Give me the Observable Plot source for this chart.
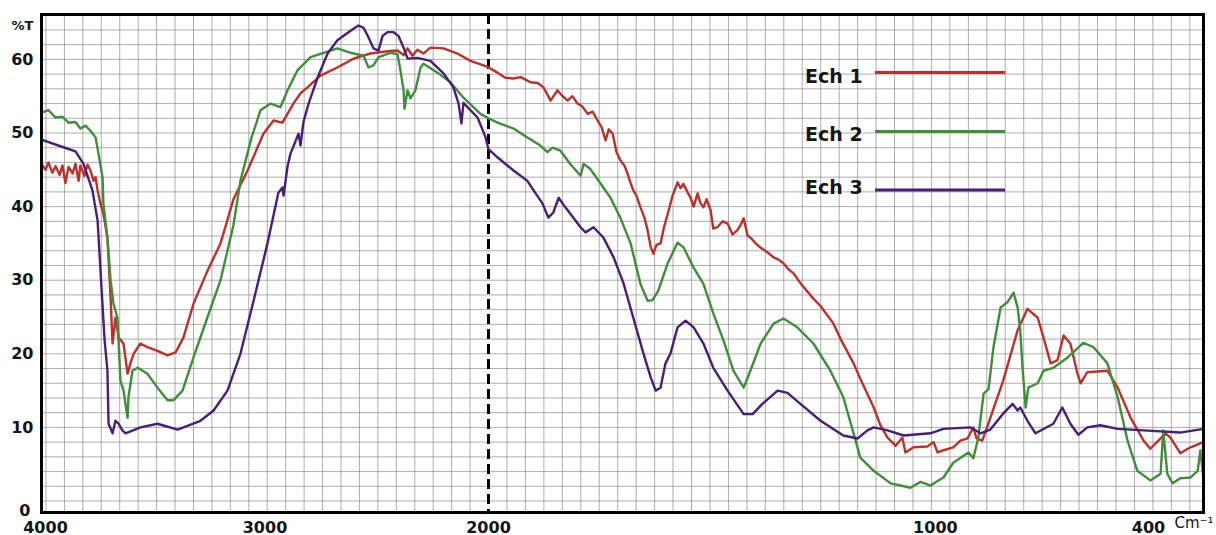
<!DOCTYPE html>
<html><head><meta charset="utf-8">
<script src="https://cdn.jsdelivr.net/npm/d3@7"></script>
<script src="https://cdn.jsdelivr.net/npm/@observablehq/plot@0.6"></script>
<style>body{margin:0;background:#fff}#chart{width:1216px;height:535px}</style>
</head><body><div id="chart"></div>
<script>
// [wavenumber cm-1, %T]
const ech1 = [[4000,45.8],[3982,45.0],[3969,46.0],[3951,44.6],[3937,45.5],[3919,44.3],[3906,45.6],[3893,43.2],[3879,45.4],[3861,44.5],[3848,45.8],[3834,43.5],[3826,45.6],[3808,44.2],[3794,45.7],[3781,44.9],[3767,43.5],[3758,44.0],[3749,42.2],[3736,40.4],[3723,39.0],[3705,35.8],[3691,27.7],[3682,21.4],[3669,24.9],[3655,22.2],[3633,21.4],[3615,17.3],[3602,18.7],[3588,20.0],[3557,21.4],[3526,20.9],[3481,20.4],[3436,19.8],[3400,20.2],[3365,22.2],[3320,26.8],[3257,31.3],[3199,35.0],[3141,41.0],[3078,44.9],[3007,49.9],[2962,51.7],[2922,51.4],[2873,54.0],[2841,55.4],[2810,56.2],[2752,57.8],[2676,58.9],[2604,60.1],[2528,60.8],[2452,61.1],[2407,61.2],[2380,60.6],[2362,61.5],[2340,60.5],[2318,61.3],[2291,60.8],[2260,61.6],[2201,61.5],[2139,60.8],[2081,59.8],[2022,59.2],[2000,58.9],
[1980,58.2],[1962,57.5],[1944,57.4],[1928,57.6],[1906,56.9],[1890,56.8],[1877,56.2],[1861,54.4],[1846,55.8],[1834,55.0],[1823,54.4],[1812,55.0],[1801,54.0],[1790,53.6],[1778,52.6],[1767,52.9],[1756,51.7],[1747,50.8],[1738,49.0],[1731,50.5],[1722,49.9],[1714,47.5],[1705,46.3],[1696,45.6],[1689,44.5],[1682,43.2],[1676,42.2],[1669,41.5],[1660,39.9],[1651,38.5],[1644,36.8],[1637,34.5],[1631,33.6],[1624,34.8],[1615,35.0],[1608,37.0],[1599,39.0],[1588,41.5],[1577,43.3],[1570,42.5],[1564,43.1],[1555,42.0],[1548,41.2],[1541,40.0],[1532,41.8],[1526,40.5],[1519,39.9],[1512,41.0],[1503,39.5],[1497,37.0],[1488,37.2],[1476,38.0],[1465,37.7],[1454,36.2],[1443,36.8],[1436,37.5],[1429,38.4],[1420,36.0],[1414,35.8],[1402,35.0],[1391,34.4],[1376,33.8],[1362,33.1],[1351,32.8],[1340,32.3],[1329,31.5],[1317,30.9],[1302,29.6],[1273,27.5],[1257,26.5],[1228,24.1],[1212,22.0],[1183,18.7],[1168,16.6],[1138,12.7],[1123,10.3],[1107,8.6],[1089,7.5],[1074,8.6],[1067,6.6],[1049,7.3],[1018,7.4],[1004,8.0],[995,6.6],[982,6.9],[960,7.3],[944,8.2],[928,8.5],[915,10.0],[908,8.5],[895,8.2],[877,11.3],[848,16.4],[816,23.2],[794,26.1],[771,24.9],[758,22.2],[742,18.7],[727,19.1],[713,22.5],[698,21.4],[682,17.3],[675,16.0],[660,17.5],[615,17.7],[592,15.4],[563,11.3],[534,8.2],[519,7.1],[485,9.2],[474,8.6],[452,6.5],[429,7.3],[400,8.0]];

const ech2 = [[3996,52.8],[3969,53.1],[3937,52.1],[3906,52.2],[3879,51.4],[3848,51.5],[3826,50.6],[3803,51.0],[3781,50.3],[3758,49.4],[3745,47.2],[3727,44.0],[3723,40.4],[3705,35.8],[3691,30.0],[3678,26.8],[3660,24.9],[3647,16.4],[3633,15.0],[3615,11.3],[3611,14.1],[3593,17.7],[3570,18.1],[3526,17.3],[3481,15.4],[3436,13.7],[3409,13.7],[3369,15.0],[3320,19.5],[3257,25.0],[3199,30.0],[3141,37.5],[3110,43.5],[3060,49.4],[3020,53.1],[2975,54.0],[2931,53.5],[2899,55.8],[2855,58.5],[2796,60.3],[2738,60.9],[2676,61.5],[2617,60.9],[2559,60.5],[2537,58.9],[2515,59.2],[2492,60.3],[2439,60.9],[2407,60.7],[2394,58.5],[2380,55.8],[2376,53.3],[2362,55.8],[2349,54.7],[2327,55.8],[2304,58.9],[2291,59.4],[2228,58.2],[2170,56.9],[2112,54.8],[2036,52.6],[2000,52.0],
[1980,51.4],[1944,50.6],[1913,49.4],[1884,48.3],[1868,47.4],[1857,48.0],[1839,47.6],[1817,45.8],[1794,44.2],[1787,45.8],[1772,45.1],[1749,43.1],[1727,41.2],[1705,38.5],[1682,35.0],[1660,29.5],[1644,27.2],[1633,27.3],[1620,28.6],[1599,32.3],[1577,35.1],[1564,34.5],[1541,31.7],[1519,29.5],[1497,25.5],[1474,21.8],[1452,17.7],[1429,15.4],[1414,17.7],[1391,21.4],[1362,24.1],[1340,24.8],[1309,23.6],[1273,21.4],[1235,17.7],[1206,14.1],[1183,9.2],[1168,5.9],[1138,4.1],[1100,2.4],[1056,1.8],[1033,2.6],[1011,2.1],[982,3.2],[960,5.2],[926,6.6],[915,5.8],[904,8.6],[892,14.6],[881,15.2],[870,20.9],[854,26.3],[839,27.0],[825,28.3],[816,26.3],[810,23.2],[805,18.1],[798,12.7],[792,15.4],[771,16.0],[758,17.7],[736,18.1],[704,19.5],[669,21.5],[646,20.9],[615,18.7],[592,14.1],[570,8.2],[548,4.1],[519,2.8],[496,3.7],[490,9.6],[481,3.7],[469,2.4],[452,3.1],[429,3.2],[413,4.1],[407,6.9],[400,3.0]];

const ech3 = [[4000,49.1],[3915,48.2],[3848,47.5],[3812,45.8],[3772,42.2],[3749,38.1],[3736,31.3],[3718,22.0],[3705,17.7],[3700,10.5],[3682,9.2],[3669,10.9],[3655,10.5],[3638,9.6],[3624,9.2],[3557,10.0],[3481,10.5],[3391,9.7],[3289,10.9],[3230,12.3],[3168,15.0],[3110,20.0],[3051,27.2],[2989,35.0],[2940,41.9],[2922,42.6],[2917,41.5],[2899,45.5],[2886,47.2],[2850,49.9],[2841,48.3],[2828,51.5],[2805,54.0],[2765,57.5],[2720,60.8],[2676,62.6],[2617,63.9],[2582,64.6],[2559,64.3],[2537,63.0],[2515,61.5],[2492,61.2],[2474,63.2],[2452,63.7],[2425,63.7],[2403,63.2],[2380,61.6],[2362,60.1],[2318,60.2],[2260,59.8],[2201,58.1],[2157,56.2],[2134,54.0],[2121,51.3],[2112,54.1],[2049,52.1],[2013,49.4],[2000,47.8],
[1980,46.7],[1944,44.9],[1913,43.5],[1899,42.2],[1879,40.4],[1866,38.5],[1855,39.2],[1843,41.2],[1828,39.9],[1810,38.5],[1794,37.2],[1783,36.5],[1765,37.2],[1743,35.8],[1720,33.1],[1698,29.6],[1676,24.9],[1653,20.0],[1637,16.8],[1626,15.0],[1615,15.4],[1604,18.7],[1593,20.0],[1577,23.6],[1559,24.5],[1541,23.6],[1519,21.4],[1497,18.1],[1465,15.0],[1429,11.8],[1409,11.8],[1387,13.2],[1353,15.0],[1331,14.7],[1302,13.2],[1257,10.9],[1206,8.9],[1174,8.5],[1152,9.6],[1138,10.0],[1107,9.6],[1071,8.9],[1011,9.2],[982,9.8],[921,10.0],[899,9.2],[877,9.7],[848,11.9],[827,13.2],[816,12.3],[810,12.7],[794,10.9],[776,9.2],[736,10.5],[716,12.7],[698,10.5],[680,9.0],[660,10.0],[631,10.3],[592,9.8],[534,9.6],[452,9.3],[400,9.8]];

const seriesNames = ["Ech 1", "Ech 2", "Ech 3"];
const seriesColors = ["#c0302a", "#3f8f3a", "#4b1d7a"];
const xTicks = [3000, 2000, 1000];
const yTicks = [10, 20, 30, 40, 50, 60];

const rows = [ech1, ech2, ech3].flatMap((s, i) => s.map(([wn, t]) => ({series: seriesNames[i], wn, t})));

// graph-paper grid: uniform on paper, so step halves in the expanded region below 2000
const gridXValues = [...d3.range(1, 25).map(k => 2000 + k * 82.5), ...d3.range(1, 39).map(k => 2000 - k * 41.3)];

const fmt = d => String(d);
const txt = {tickSize: 0, fontWeight: "bold", label: null, fill: "#151515", tickFormat: fmt};
const plot = Plot.plot({
  width: 1216, height: 535,
  marginLeft: 41, marginRight: 13, marginTop: 14, marginBottom: 23,
  style: {fontFamily: "DejaVu Sans", background: "#fff", color: "#151515", overflow: "visible"},
  x: {type: "linear", domain: [4000, 2000, 400], range: [41, 488, 1203]},
  y: {domain: [-1.56, 66.1]},
  color: {domain: seriesNames, range: seriesColors},
  marks: [
    Plot.gridY(d3.range(0, 67, 2), {stroke: "#8a8a8a", strokeOpacity: 0.7, strokeWidth: 1}),
    Plot.gridX(gridXValues, {stroke: "#8a8a8a", strokeOpacity: 0.7, strokeWidth: 1}),
    Plot.ruleX([2000], {stroke: "#000", strokeWidth: 3, strokeDasharray: "10,5"}),
    Plot.line(rows, {x: "wn", y: "t", z: "series", stroke: "series", strokeWidth: 2.4, strokeLinejoin: "round"}),
    Plot.frame({stroke: "#000", strokeWidth: 3}),
    Plot.axisY(yTicks, {...txt, tickPadding: 8, fontSize: 16}),
    Plot.axisY([0], {...txt, tickPadding: 11, dy: 10, fontSize: 16}),
    Plot.axisX(xTicks, {...txt, tickPadding: 9, fontSize: 16}),
    Plot.axisX([4000], {...txt, tickPadding: 9, dx: 4, fontSize: 16}),
    Plot.axisX([400], {...txt, tickPadding: 9, dx: -55, fontSize: 16}),
    Plot.text(["%T"], {frameAnchor: "top-left", dx: -8, dy: 6, textAnchor: "end", fontSize: 13, fontWeight: "bold", fill: "#151515"}),
    Plot.text(["Cm⁻¹"], {frameAnchor: "bottom-right", dx: 10, dy: 15, textAnchor: "end", fontSize: 15, fill: "#151515"})
  ]
});

// legend
const legendY = [[83, 72.5], [141, 131.5], [194, 190]];
const svg = d3.select(plot);
const lg = svg.append("g").attr("text-anchor", "start");
seriesNames.forEach((name, i) => {
  lg.append("text").attr("x", 805).attr("y", legendY[i][0]).text(name)
    .attr("text-anchor", "start")
    .attr("font-size", 19).attr("font-weight", "bold").attr("fill", "#151515").attr("font-family", "DejaVu Sans");
  lg.append("line").attr("x1", 875).attr("x2", 1005).attr("y1", legendY[i][1]).attr("y2", legendY[i][1])
    .attr("stroke", seriesColors[i]).attr("stroke-width", 3);
});
document.getElementById("chart").append(plot);
</script>
</body></html>
